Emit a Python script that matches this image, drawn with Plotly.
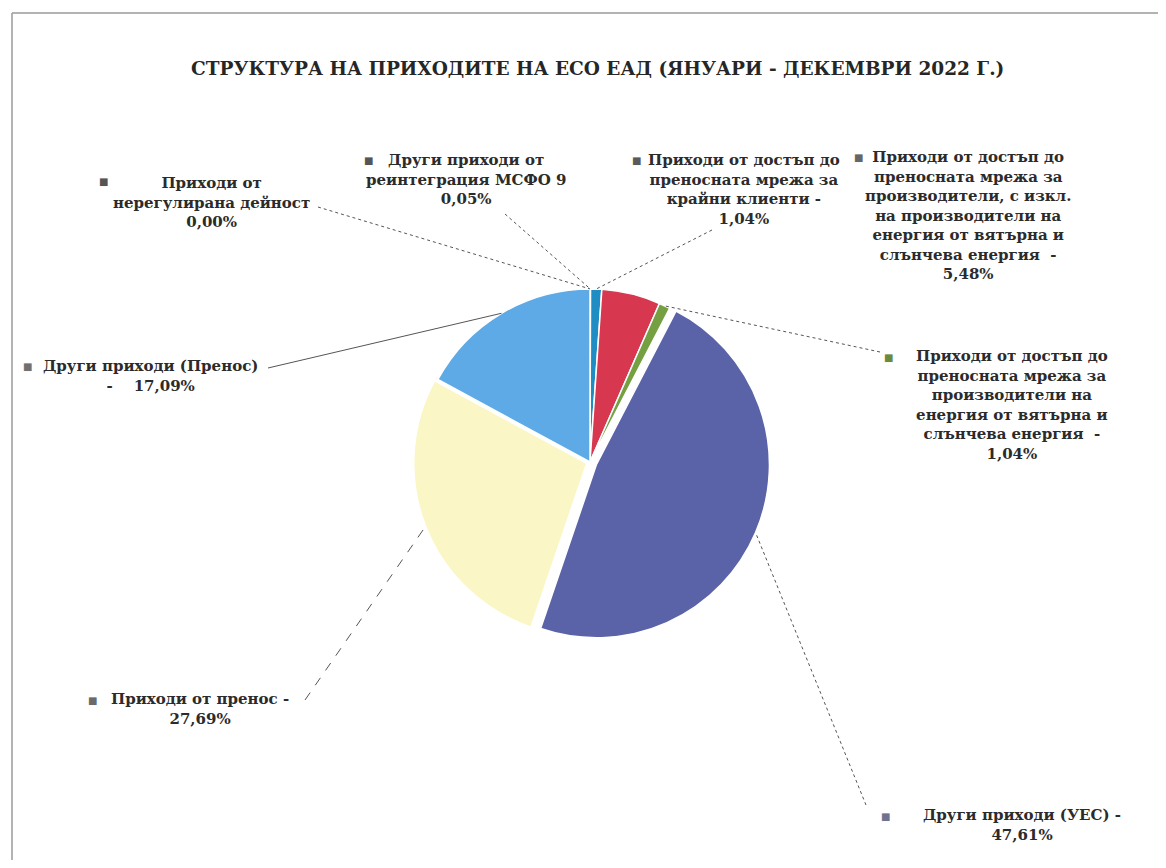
import math
import plotly.graph_objects as go

PAGE_W, PAGE_H = 1166, 868
OFF = 8                      # default body margin of the html page
W, H = PAGE_W - 2 * OFF, PAGE_H - 2 * OFF

# ---------------- data ----------------
categories = [
    "Приходи от нерегулирана дейност",
    "Други приходи от реинтеграция МСФО 9",
    "Приходи от достъп до преносната мрежа за крайни клиенти",
    "Приходи от достъп до преносната мрежа за производители, с изкл. на производители на енергия от вятърна и слънчева енергия",
    "Приходи от достъп до преносната мрежа за производители на енергия от вятърна и слънчева енергия",
    "Други приходи (УЕС)",
    "Приходи от пренос",
    "Други приходи (Пренос)",
]
values = [0.00, 0.05, 1.04, 5.48, 1.04, 47.61, 27.69, 17.09]

# label text lines (without the percentage) as they are wrapped on the chart
label_lines = [
    ["Приходи от", "нерегулирана дейност"],
    ["Други приходи от", "реинтеграция МСФО 9"],
    ["Приходи от достъп до", "преносната мрежа за", "крайни клиенти -"],
    ["Приходи от достъп до", "преносната мрежа за", "производители, с изкл.",
     "на производители на", "енергия от вятърна и", "слънчева енергия  -"],
    ["Приходи от достъп до", "преносната мрежа за", "производители на",
     "енергия от вятърна и", "слънчева енергия  -"],
    ["Други приходи (УЕС) -"],
    ["Приходи от пренос -"],
    ["Други приходи (Пренос)"],
]
title = "СТРУКТУРА НА ПРИХОДИТЕ НА ЕСО ЕАД (ЯНУАРИ - ДЕКЕМВРИ 2022 Г.)"

# ---------------- styles ----------------
colors = ["#7f7f7f", "#404040", "#1f8cc4", "#d8384f", "#74a041",
          "#5b63a8", "#fbf6c6", "#5eaae6"]
pulls = [0, 0, 0, 0, 0, 0.04, 0.02, 0]
marker_colors = ["#555555", "#555555", "#5a5a5a", "#666666", "#6b8a3a",
                 "#6f7390", "#6a6a6a", "#707070"]

# placement in page pixels: label (centre x, top y), marker, leader start
label_pos = [(212, 172), (466, 149), (744, 149), (968, 146),
             (1012, 345), (1022, 804), (200, 688), (150, 355)]
marker_pos = [(103, 181), (368, 160), (636, 160), (858, 157),
              (888, 357), (885, 816), (92, 700), (27, 367)]
leader_start = [(318, 207), (505, 214), (712, 230), None,
                (880, 352), (866, 805), (305, 700), (268, 368)]
dash_style = ["dot", "dot", "dot", "dot", "dot", "dot", "dash", "solid"]


def px(x):
    return (x - OFF) / W


def py(y):
    return 1 - (y - OFF) / H


# pie geometry (page pixels)
cx, cy, R = 590, 462, 180
dom_x = [px(cx - R), px(cx + R)]
dom_y = [py(cy + R), py(cy - R)]
r = R / (1 + max(pulls))

fig = go.Figure()
fig.add_trace(go.Pie(
    labels=categories,
    values=values,
    sort=False,
    direction="clockwise",
    rotation=0,
    pull=pulls,
    marker=dict(colors=colors, line=dict(color="white", width=1.5)),
    textinfo="none",
    hoverinfo="label+percent",
    showlegend=False,
    domain=dict(x=dom_x, y=dom_y),
))


def fmt(v):
    return f"{v:.2f}".replace(".", ",") + "%"


font_family = "DejaVu Serif, serif"
annotations = []
shapes = []

total = sum(values)
cum = 0.0
for i, v in enumerate(values):
    mid = (cum + v / 2) / total * 2 * math.pi
    cum += v
    rr = r * (1 + pulls[i])
    ex = cx + rr * math.sin(mid)
    ey = cy - rr * math.cos(mid)

    lines = list(label_lines[i])
    pct = fmt(v)
    if i == 7:
        lines.append("-    " + pct)
    else:
        lines.append(pct)
    text = "<br>".join(f"<b>{t}</b>" for t in lines)
    lx, ly = label_pos[i]
    annotations.append(dict(
        x=px(lx), y=py(ly), xref="paper", yref="paper",
        xanchor="center", yanchor="top", align="center",
        text=text, showarrow=False,
        font=dict(family=font_family, size=15, color="#2b2b2b"),
    ))
    mx, my = marker_pos[i]
    annotations.append(dict(
        x=px(mx), y=py(my), xref="paper", yref="paper",
        xanchor="center", yanchor="middle",
        text="■", showarrow=False,
        font=dict(family="DejaVu Sans", size=10, color=marker_colors[i]),
    ))
    if leader_start[i] is not None:
        sx, sy = leader_start[i]
        shapes.append(dict(
            type="line", xref="paper", yref="paper",
            x0=px(sx), y0=py(sy), x1=px(ex), y1=py(ey),
            line=dict(color="#555555", width=1, dash=dash_style[i]),
        ))

# title
annotations.append(dict(
    x=px(597), y=py(68), xref="paper", yref="paper",
    xanchor="center", yanchor="middle",
    text=f"<b>{title}</b>", showarrow=False,
    font=dict(family=font_family, size=18.5, color="#262626"),
))

# frame lines (left and top only, as in the scan)
shapes.append(dict(type="line", xref="paper", yref="paper",
                   x0=px(12), y0=py(13), x1=1, y1=py(13),
                   line=dict(color="#9a9a9a", width=1.5)))
shapes.append(dict(type="line", xref="paper", yref="paper",
                   x0=px(12), y0=py(13), x1=px(12), y1=0,
                   line=dict(color="#9a9a9a", width=1.5)))

fig.update_layout(
    width=W, height=H, autosize=False,
    margin=dict(l=0, r=0, t=0, b=0),
    paper_bgcolor="white", plot_bgcolor="white",
    annotations=annotations, shapes=shapes,
)

fig.write_html("out.html")
